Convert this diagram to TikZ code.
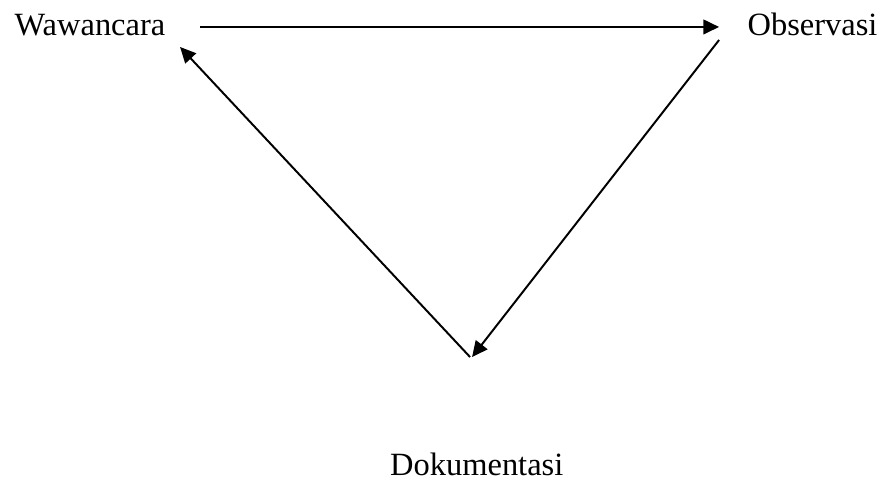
\documentclass[tikz,border=0pt]{standalone}
\usepackage{fontspec}
\setmainfont{Liberation Serif}
\usetikzlibrary{positioning,arrows.meta}

\begin{document}
\begin{tikzpicture}[
  every node/.style={font=\fontsize{12.4pt}{14pt}\selectfont, inner sep=0pt},
  step arrow/.style={-{Triangle[length=6pt, width=5.6pt]}, line width=0.75pt}
]
  \useasboundingbox (0,0) rectangle (11.84,6.444);

  \node[anchor=base] (waw) at (1.208,5.961) {Wawancara};
  \node[anchor=base] (obs) at (10.908,5.961) {Observasi};
  \node[anchor=base] (dok) at (6.40,0.06) {Dokumentasi};

  \coordinate (waw-out) at (2.685,6.082);
  \coordinate (waw-in) at (2.417,5.813);
  \coordinate (obs-in) at (9.653,6.082);
  \coordinate (obs-out) at (9.653,5.907);
  \coordinate (dok-in) at (6.337,1.651);
  \coordinate (dok-out) at (6.310,1.651);

  \draw[step arrow] (waw-out) -- (obs-in);
  \draw[step arrow] (obs-out) -- (dok-in);
  \draw[step arrow] (dok-out) -- (waw-in);
\end{tikzpicture}
\end{document}
